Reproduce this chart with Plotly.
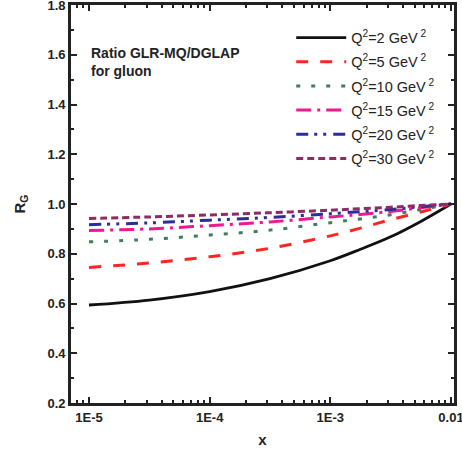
import plotly.graph_objects as go

x_vals = [1e-5, 3.162e-5, 1e-4, 3.162e-4, 1e-3, 1.778e-3, 3.162e-3, 5.623e-3, 1e-2]

r_q2_2 = [0.594, 0.614, 0.648, 0.700, 0.772, 0.818, 0.868, 0.930, 1.0]
r_q2_5 = [0.745, 0.763, 0.788, 0.822, 0.872, 0.903, 0.937, 0.968, 1.0]
r_q2_10 = [0.848, 0.858, 0.875, 0.895, 0.925, 0.940, 0.957, 0.978, 1.0]
r_q2_15 = [0.893, 0.900, 0.913, 0.928, 0.948, 0.958, 0.970, 0.985, 1.0]
r_q2_20 = [0.917, 0.924, 0.935, 0.946, 0.961, 0.969, 0.978, 0.989, 1.0]
r_q2_30 = [0.942, 0.948, 0.956, 0.965, 0.975, 0.981, 0.987, 0.994, 1.0]

names = ["Q<sup>2</sup>=2 GeV<sup> 2</sup>", "Q<sup>2</sup>=5 GeV<sup> 2</sup>",
         "Q<sup>2</sup>=10 GeV<sup> 2</sup>", "Q<sup>2</sup>=15 GeV<sup> 2</sup>",
         "Q<sup>2</sup>=20 GeV<sup> 2</sup>", "Q<sup>2</sup>=30 GeV<sup> 2</sup>"]
series = [r_q2_2, r_q2_5, r_q2_10, r_q2_15, r_q2_20, r_q2_30]
colors = ["#111111", "#ff2525", "#3f7d5c", "#f0188f", "#2a2e9a", "#8c2b65"]
dashes = ["solid", "12px,12px", "4px,11px", "15px,6px,3px,6px",
          "12px,6px,3px,6px,3px,7px", "7px,4px"]
widths = [2.8, 3, 3, 3, 3, 3]

x_tickvals = [1e-5, 1e-4, 1e-3, 1e-2]
x_ticktext = ["1E-5", "1E-4", "1E-3", "0.01"]
y_tickvals = [0.2, 0.4, 0.6, 0.8, 1.0, 1.2, 1.4, 1.6, 1.8]
y_ticktext = ["0.2", "0.4", "0.6", "0.8", "1.0", "1.2", "1.4", "1.6", "1.8"]

fig = go.Figure()
for i, (nm, ys) in enumerate(zip(names, series)):
    fig.add_trace(go.Scatter(
        x=x_vals, y=ys, mode="lines", name=nm, legendgroup=str(i),
        line=dict(color=colors[i], width=widths[i], dash=dashes[i], shape="spline"),
    ))

tickfont = dict(family="Liberation Sans, Arial, sans-serif", size=13, color="#222222")
axcommon = dict(showline=True, linewidth=2.8, linecolor="#222222", mirror="allticks",
                ticks="inside", ticklen=6, tickwidth=2.2, tickcolor="#222222",
                showgrid=False, zeroline=False, tickfont=tickfont, automargin=False,
                ticklabeloverflow="allow")

fig.update_xaxes(type="log", range=[-5.149, -1.975], tickvals=x_tickvals,
                 ticktext=[f"<b>{t}</b>" for t in x_ticktext],
                 minor=dict(ticks="inside", ticklen=3.5, tickwidth=2, tickcolor="#222222",
                            dtick="D1", showgrid=False),
                 title=dict(text="<b>x</b>", font=dict(family="Liberation Sans, Arial", size=15, color="#222222"),
                            standoff=11),
                 **axcommon)
fig.update_yaxes(range=[0.2, 1.8], tickvals=y_tickvals,
                 ticktext=[f"<b>{t}</b>" for t in y_ticktext],
                 minor=dict(ticks="inside", ticklen=3.5, tickwidth=2, tickcolor="#222222",
                            dtick=0.1, tick0=0.2, showgrid=False),
                 title=dict(text="<b>R<sub>G</sub></b>", font=dict(family="Liberation Sans, Arial", size=15, color="#222222"),
                            standoff=19),
                 **axcommon)

fig.add_annotation(xref="paper", yref="paper", x=0.048, y=0.905, xanchor="left", yanchor="top",
                   text="<b>Ratio GLR-MQ/DGLAP<br>for gluon</b>", showarrow=False, align="left",
                   font=dict(family="Liberation Sans, Arial", size=14, color="#222222"))

fig.update_layout(
    width=462, height=452,
    margin=dict(l=71, r=8, t=5, b=49),
    paper_bgcolor="white", plot_bgcolor="white",
    hovermode=False,
    legend=dict(x=0.575, y=0.958, xanchor="left", yanchor="top", bgcolor="rgba(0,0,0,0)",
                font=dict(family="Liberation Sans, Arial", size=14.5, color="#222222"),
                itemwidth=50, tracegroupgap=2.3, borderwidth=0),
)

fig.write_html("out.html")
